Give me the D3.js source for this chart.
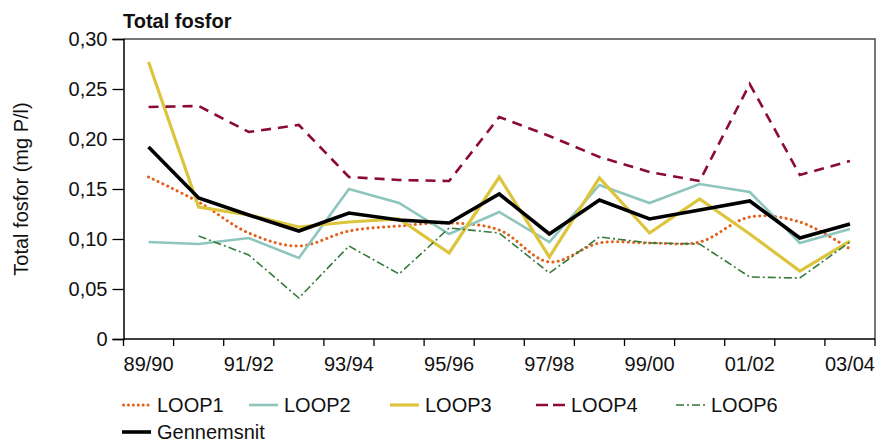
<!DOCTYPE html>
<html>
<head>
<meta charset="utf-8">
<script src="https://cdn.jsdelivr.net/npm/d3@7"></script>
<style>
  html, body { margin: 0; padding: 0; background: #fff; }
  svg { display: block; font-family: "Liberation Sans", Arial, Helvetica, sans-serif; }
</style>
</head>
<body>
<svg id="chart" width="877" height="442"></svg>
<script>
// ---- data ----
const categories = ["89/90","90/91","91/92","92/93","93/94","94/95","95/96","96/97","97/98","98/99","99/00","00/01","01/02","02/03","03/04"];
const tickLabels = ["89/90","91/92","93/94","95/96","97/98","99/00","01/02","03/04"];
const yTicks = [0, 0.05, 0.10, 0.15, 0.20, 0.25, 0.30];
const seriesNames = ["LOOP1","LOOP2","LOOP3","LOOP4","LOOP6","Gennemsnit"];
const loop1 = [0.162,0.137,0.106,0.093,0.108,0.113,0.116,0.109,0.077,0.096,0.096,0.097,0.122,0.117,0.090];
const loop2 = [0.097,0.095,0.101,0.081,0.150,0.136,0.105,0.127,0.097,0.154,0.136,0.155,0.147,0.096,0.110];
const loop3 = [0.277,0.132,0.124,0.112,0.117,0.120,0.086,0.162,0.082,0.161,0.106,0.140,0.105,0.068,0.098];
const loop4 = [0.232,0.233,0.207,0.214,0.162,0.159,0.158,0.222,0.203,0.182,0.167,0.158,0.255,0.164,0.178];
const loop6 = [null,0.103,0.084,0.041,0.093,0.065,0.111,0.106,0.066,0.102,0.096,0.095,0.062,0.061,0.097];
const gennemsnit = [0.192,0.141,0.124,0.108,0.126,0.119,0.116,0.145,0.105,0.139,0.120,0.129,0.138,0.101,0.115];
const title = "Total fosfor";
const yLabel = "Total fosfor (mg P/l)";

// ---- styles ----
const styles = {
  LOOP1: { color: "#e2601c", width: 3, dash: "0.1 5.2", cap: "round", smooth: true },
  LOOP2: { color: "#8ec6bd", width: 2.6, dash: null, cap: "butt" },
  LOOP3: { color: "#dcc53c", width: 3.2, dash: null, cap: "butt" },
  LOOP4: { color: "#8b0b34", width: 2.6, dash: "10 7", cap: "butt" },
  LOOP6: { color: "#357a3a", width: 1.6, dash: "8 3 2 3", cap: "butt" },
  Gennemsnit: { color: "#000000", width: 3.6, dash: null, cap: "butt" }
};
const dataBy = { LOOP1: loop1, LOOP2: loop2, LOOP3: loop3, LOOP4: loop4, LOOP6: loop6, Gennemsnit: gennemsnit };

const svg = d3.select("#chart");
const pLeft = 123.5, pRight = 875, pTop = 39, pBottom = 339;

const x = d3.scaleBand().domain(categories).range([pLeft, pRight]).padding(0);
const y = d3.scaleLinear().domain([0, 0.30]).range([pBottom, pTop]);
const cx = c => x(c) + x.bandwidth() / 2;

// frame (top and right)
svg.append("path")
  .attr("d", `M${pLeft},${pTop}H${pRight}V${pBottom}`)
  .attr("fill", "none").attr("stroke", "#4a4a4a").attr("stroke-width", 1.5);

// y axis
const fmt = d => d === 0 ? "0" : d.toFixed(2).replace(".", ",");
const yAxis = d3.axisLeft(y).tickValues(yTicks).tickFormat(fmt).tickSize(11).tickPadding(5);
const gy = svg.append("g").attr("transform", `translate(${pLeft},0)`).call(yAxis);
gy.select(".domain").attr("stroke", "#000").attr("stroke-width", 1.5);
gy.selectAll(".tick line").attr("stroke", "#000").attr("stroke-width", 1.3);
gy.selectAll(".tick text").attr("font-size", 20).attr("fill", "#111")
  .attr("font-family", "Liberation Sans, Arial, sans-serif");

// x axis: ticks at band boundaries, labels at every second category
const bounds = categories.map(c => x(c)).concat([pRight]);
const gx = svg.append("g");
gx.append("line").attr("x1", pLeft).attr("x2", pRight).attr("y1", pBottom).attr("y2", pBottom)
  .attr("stroke", "#000").attr("stroke-width", 1.5);
gx.selectAll("line.tk").data(bounds).join("line").attr("class", "tk")
  .attr("x1", d => d).attr("x2", d => d).attr("y1", pBottom).attr("y2", pBottom + 7)
  .attr("stroke", "#000").attr("stroke-width", 1.3);
gx.selectAll("text").data(tickLabels).join("text")
  .attr("x", d => cx(d)).attr("y", 371)
  .attr("text-anchor", "middle").attr("font-size", 20).attr("fill", "#111")
  .text(d => d);

// title and y label
svg.append("text").attr("x", 123).attr("y", 28).attr("font-size", 20).attr("font-weight", "bold")
  .attr("fill", "#111").text(title);
svg.append("text").attr("transform", `translate(28,${(pTop + pBottom) / 2}) rotate(-90)`)
  .attr("text-anchor", "middle").attr("font-size", 20).attr("fill", "#111").text(yLabel);

// lines
seriesNames.forEach(name => {
  const st = styles[name];
  const pts = categories.map((c, i) => ({ c, v: dataBy[name][i] }));
  const line = d3.line()
    .defined(d => d.v != null)
    .x(d => cx(d.c)).y(d => y(d.v))
    .curve(st.smooth ? d3.curveCatmullRom.alpha(0.5) : d3.curveLinear);
  svg.append("path").datum(pts)
    .attr("d", line)
    .attr("fill", "none")
    .attr("stroke", st.color)
    .attr("stroke-width", st.width)
    .attr("stroke-linejoin", "miter")
    .attr("stroke-linecap", st.cap)
    .attr("stroke-dasharray", st.dash);
});

// legend
const legendPos = [
  { name: "LOOP1", x: 122, y: 405 },
  { name: "LOOP2", x: 249, y: 405 },
  { name: "LOOP3", x: 390, y: 405 },
  { name: "LOOP4", x: 536, y: 405 },
  { name: "LOOP6", x: 676, y: 405 },
  { name: "Gennemsnit", x: 122, y: 432 }
];
const lg = svg.append("g");
legendPos.forEach(p => {
  const st = styles[p.name];
  lg.append("line").attr("x1", p.x + (st.cap === "round" ? 1.5 : 0)).attr("x2", p.x + 29)
    .attr("y1", p.y).attr("y2", p.y)
    .attr("stroke", st.color).attr("stroke-width", st.width)
    .attr("stroke-linecap", st.cap)
    .attr("stroke-dasharray", p.name === "LOOP4" ? "12 5" : (p.name === "LOOP1" ? "0.1 4.8" : st.dash));
  lg.append("text").attr("x", p.x + 35).attr("y", p.y + 7)
    .attr("font-size", 20).attr("fill", "#111").text(p.name);
});
</script>
</body>
</html>
